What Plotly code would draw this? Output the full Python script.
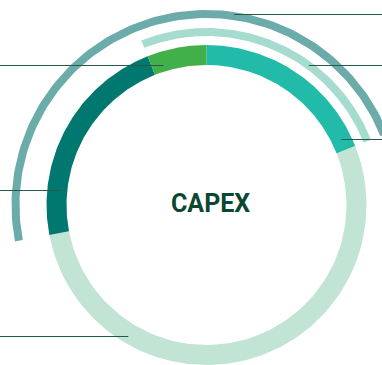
import numpy as np
import plotly.graph_objects as go

# Donut segments, clockwise from 12 o'clock (share of CAPEX, %)
segments = ["Segment A", "Segment B", "Segment C", "Segment D"]
shares = [19, 53, 22, 6]
seg_colors = ["#22BBA9", "#C2E4D4", "#00786F", "#41AF4A"]

# Bracket arcs outside the ring: which consecutive segments each one spans
arc_names = ["C + D + A", "D + A"]
arc_first = [2, 3]
arc_count = [3, 2]
arc_colors = ["#6BABAA", "#A6DBD0"]

# Leader lines: side, height above centre (px), radius they reach
leader_side = ["right", "right", "right", "left", "left", "left"]
leader_y = [190.5, 139.5, 65.5, 139.5, 14.5, -131.5]
leader_r = [192.5, 173, 150, 146, 146, 153]

CENTER_X, CENTER_Y = 206.5, 205
R_OUT, R_IN = 160, 140
ARC_RADII = [(187, 195), (169, 177)]
W, H = 382, 365


def ring_path(a0, a1, r_in, r_out, n=120):
    """Closed polygon of an annular sector, angles clockwise from 12 o'clock (deg)."""
    t = np.radians(np.linspace(a0, a1, n))
    xo, yo = r_out * np.sin(t), r_out * np.cos(t)
    xi, yi = r_in * np.sin(t[::-1]), r_in * np.cos(t[::-1])
    return np.r_[xo, xi, xo[:1]], np.r_[yo, yi, yo[:1]]


bounds = np.r_[0, np.cumsum(shares)] / sum(shares) * 360

fig = go.Figure()
for i, name in enumerate(segments):
    x, y = ring_path(bounds[i], bounds[i + 1], R_IN, R_OUT)
    fig.add_scatter(x=x, y=y, fill="toself", fillcolor=seg_colors[i], mode="lines",
                    line=dict(width=0), name=name, hoverinfo="name")

for k, name in enumerate(arc_names):
    a0 = bounds[arc_first[k]]
    span = sum(shares[(arc_first[k] + j) % len(shares)] for j in range(arc_count[k]))
    a1 = a0 + span / sum(shares) * 360
    x, y = ring_path(a0, a1, *ARC_RADII[k])
    fig.add_scatter(x=x, y=y, fill="toself", fillcolor=arc_colors[k], mode="lines",
                    line=dict(width=0), name=name, hoverinfo="name")

for side, ly, lr in zip(leader_side, leader_y, leader_r):
    reach = np.sqrt(max(lr**2 - ly**2, 0))
    if side == "right":
        xs = [reach, W - CENTER_X]
    else:
        xs = [-CENTER_X, -reach]
    fig.add_scatter(x=xs, y=[ly, ly], mode="lines", line=dict(color="#245A48", width=1),
                    hoverinfo="skip")

fig.add_annotation(x=3.5, y=2, text="<b>CAPEX</b>", showarrow=False,
                   font=dict(family="Roboto", size=25, color="#0B4833"))

fig.update_xaxes(range=[-CENTER_X, W - CENTER_X], visible=False)
fig.update_yaxes(range=[CENTER_Y - H, CENTER_Y], visible=False)
fig.update_layout(width=W, height=H, margin=dict(l=0, r=0, t=0, b=0),
                  showlegend=False, plot_bgcolor="white", paper_bgcolor="white")
# the page body has a default 8px margin; drop it so the figure fills the window
fig.write_html("out.html", config={"displayModeBar": False},
               post_script="document.body.style.margin='0px';")
